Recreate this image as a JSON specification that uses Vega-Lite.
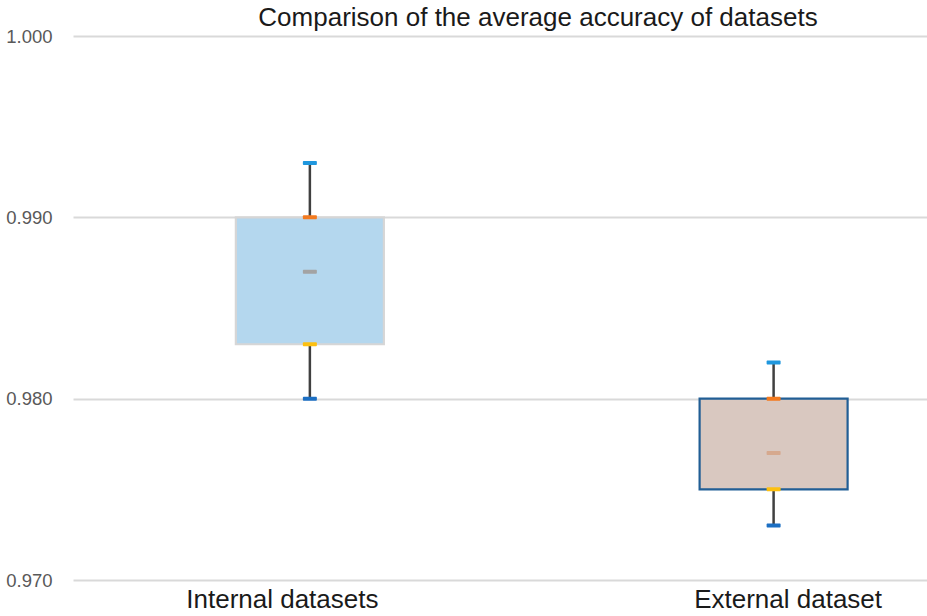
{
  "$schema": "https://vega.github.io/schema/vega-lite/v6.json",
  "autosize": {"type": "none"},
  "padding": {"left": 73, "top": 36, "right": 0, "bottom": 36},
  "width": 854,
  "height": 544,
  "background": "white",
  "title": {
    "text": "Comparison of the average accuracy of datasets",
    "font": "Liberation Sans",
    "fontSize": 26,
    "fontWeight": "normal",
    "color": "#1a1a1a",
    "anchor": "middle",
    "dx": 38,
    "dy": 12,
    "offset": 8
  },
  "data": {
    "values": [
      {"group": "Internal datasets", "pos": 1, "min": 0.980, "q1": 0.983, "median": 0.987, "q3": 0.990, "max": 0.993},
      {"group": "External dataset", "pos": 2, "min": 0.973, "q1": 0.975, "median": 0.977, "q3": 0.980, "max": 0.982}
    ]
  },
  "config": {
    "view": {"stroke": null},
    "font": "Liberation Sans"
  },
  "encoding": {
    "x": {
      "field": "pos",
      "type": "quantitative",
      "scale": {"domain": [0.5, 2.32], "nice": false, "zero": false},
      "axis": {
        "values": [1, 2],
        "title": null,
        "grid": false,
        "domain": false,
        "ticks": false,
        "labelExpr": "datum.value == 1 ? 'Internal datasets' : 'External dataset'",
        "labelFont": "Liberation Sans",
        "labelFontSize": 26,
        "labelLimit": 400,
        "labelColor": "#1a1a1a",
        "labelPadding": 6,
        "labelBaseline": "top",
        "labelOffset": {"condition": {"test": "datum.value == 1", "value": -28}, "value": 14}
      }
    }
  },
  "layer": [
    {
      "mark": {"type": "rule", "color": "#404040", "strokeWidth": 2.5},
      "encoding": {
        "y": {
          "field": "min",
          "type": "quantitative",
          "scale": {"domain": [0.97, 1.0], "nice": false, "zero": false},
          "axis": {
            "values": [0.97, 0.98, 0.99, 1.0],
            "format": ".3f",
            "title": null,
            "domain": false,
            "ticks": false,
            "grid": true,
            "gridColor": "#d9d9d9",
            "gridWidth": 2,
            "labelFont": "Liberation Sans",
            "labelFontSize": 18.5,
            "labelColor": "#595959",
            "labelPadding": 21
          }
        },
        "y2": {"field": "max"}
      }
    },
    {
      "mark": {"type": "bar", "width": 148, "strokeWidth": 2.2},
      "encoding": {
        "y": {"field": "q1", "type": "quantitative"},
        "y2": {"field": "q3"},
        "fill": {
          "field": "group",
          "type": "nominal",
          "scale": {"domain": ["Internal datasets", "External dataset"], "range": ["#b4d7ee", "#d9c8c0"]},
          "legend": null
        },
        "stroke": {
          "field": "group",
          "type": "nominal",
          "scale": {"domain": ["Internal datasets", "External dataset"], "range": ["#d6d6d6", "#215e95"]},
          "legend": null
        },
        "fillOpacity": {"value": 1}
      }
    },
    {
      "transform": [
        {"fold": ["min", "q1", "median", "q3", "max"], "as": ["stat", "value"]}
      ],
      "mark": {"type": "tick", "orient": "horizontal", "size": 14, "thickness": 4, "opacity": 1, "cornerRadius": 1},
      "encoding": {
        "y": {"field": "value", "type": "quantitative"},
        "color": {
          "condition": {"test": "datum.group == 'External dataset' && datum.stat == 'median'", "value": "#d6a98e"},
          "field": "stat",
          "type": "nominal",
          "scale": {
            "domain": ["max", "q3", "median", "q1", "min"],
            "range": ["#1f97de", "#f37a1f", "#a3a3a3", "#fdc010", "#1c6fc3"]
          },
          "legend": null
        }
      }
    }
  ]
}
